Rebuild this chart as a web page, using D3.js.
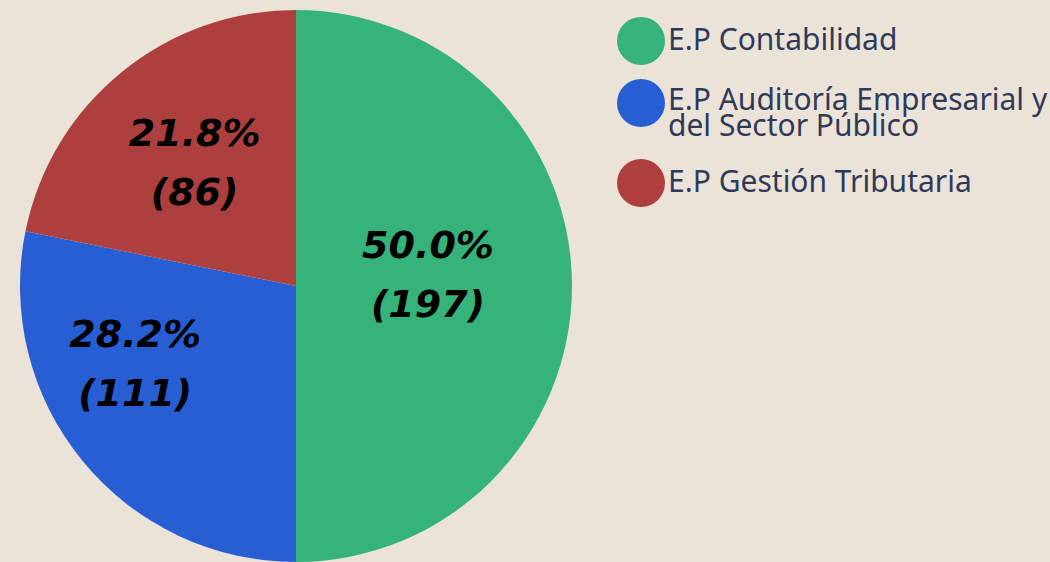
<!DOCTYPE html>
<html>
<head>
<meta charset="utf-8">
<script src="https://cdn.jsdelivr.net/npm/d3@7"></script>
<style>
  html, body { margin: 0; padding: 0; background: #ece3d8; }
  svg { display: block; }
</style>
</head>
<body>
<svg id="chart" width="1050" height="562"></svg>
<script>
// Student distribution by professional school
const categories = ["E.P Contabilidad", "E.P Auditoría Empresarial y del Sector Público", "E.P Gestión Tributaria"];
const counts = [197, 111, 86];
const legendLines = [["E.P Contabilidad"], ["E.P Auditoría Empresarial y", "del Sector Público"], ["E.P Gestión Tributaria"]];
const colors = ["#36b37a", "#285ed4", "#ad3f3f"];

const width = 1050, height = 562;
const cx = 296, cy = 286, radius = 276;
// small nudges applied to each slice label after centroid placement
const labelNudge = [[-6, 1], [-54, 3], [-14, -4]];

const svg = d3.select("#chart");
const total = d3.sum(counts);
const data = categories.map((c, i) => ({ name: c, value: counts[i], idx: i }));

const pie = d3.pie().value(d => d.value).sort(null);
const arc = d3.arc().innerRadius(0).outerRadius(radius);
const labelArc = d3.arc().innerRadius(radius * 0.5).outerRadius(radius * 0.5);
const color = d3.scaleOrdinal().domain(categories).range(colors);

const g = svg.append("g").attr("transform", `translate(${cx},${cy})`);
const arcs = pie(data);

g.selectAll("path.slice")
  .data(arcs)
  .join("path")
  .attr("class", "slice")
  .attr("d", arc)
  .attr("fill", d => color(d.data.name));

const fmt = d3.format(".1f");
const labels = g.selectAll("g.label")
  .data(arcs)
  .join("g")
  .attr("class", "label")
  .attr("transform", d => {
    const [x, y] = labelArc.centroid(d);
    const n = labelNudge[d.data.idx];
    return `translate(${x + n[0]},${y + n[1]})`;
  });

labels.append("text")
  .attr("text-anchor", "middle")
  .attr("y", -29)
  .style("font-family", "'DejaVu Sans', sans-serif")
  .style("font-weight", "bold")
  .style("font-style", "italic")
  .style("font-size", "38px")
  .attr("fill", "#000")
  .text(d => fmt(d.data.value / total * 100) + "%");

labels.append("text")
  .attr("text-anchor", "middle")
  .attr("y", 30)
  .style("font-family", "'DejaVu Sans', sans-serif")
  .style("font-weight", "bold")
  .style("font-style", "italic")
  .style("font-size", "38px")
  .attr("fill", "#000")
  .text(d => `(${d.data.value})`);

// Legend
const legendY = d3.scalePoint().domain(categories).range([41, 183]);
const legend = svg.append("g").attr("class", "legend");
const items = legend.selectAll("g.item")
  .data(categories)
  .join("g")
  .attr("class", "item")
  .attr("transform", (d, i) => {
    const y = i === 1 ? 103 : legendY(d);
    return `translate(641,${y})`;
  });

items.append("circle")
  .attr("r", 24)
  .attr("fill", d => color(d));

items.each(function(d, i) {
  const lines = legendLines[i];
  const t = d3.select(this).append("text")
    .style("font-family", "'Noto Sans', sans-serif")
    .style("font-size", "30px")
    .attr("fill", "#2f3a58");
  lines.forEach((ln, j) => {
    t.append("tspan")
      .attr("x", 27)
      .attr("y", lines.length === 1 ? 9 : 7 + j * 26)
      .text(ln);
  });
});
</script>
</body>
</html>
